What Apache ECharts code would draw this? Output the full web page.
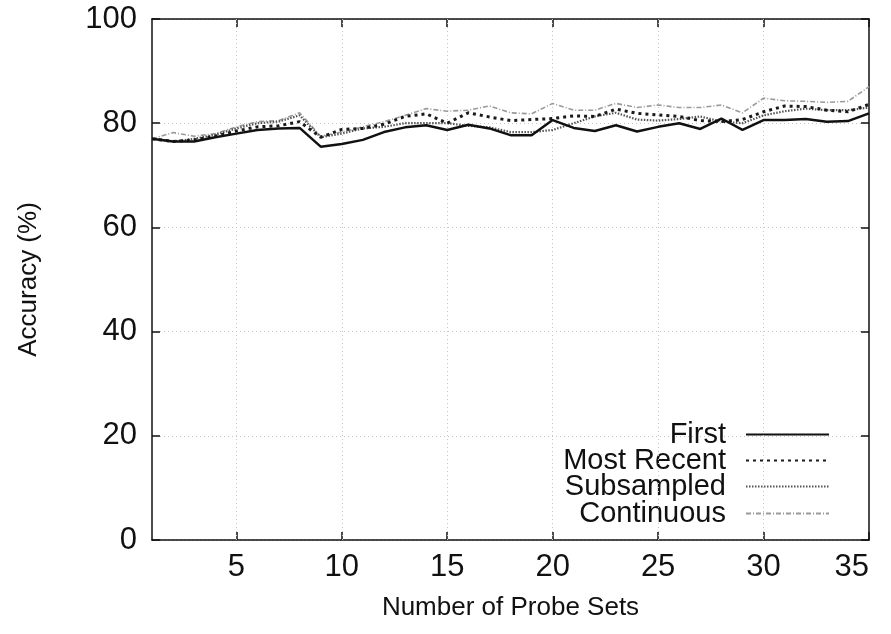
<!DOCTYPE html>
<html>
<head>
<meta charset="utf-8">
<script src="https://cdn.jsdelivr.net/npm/echarts@6/dist/echarts.min.js"></script>
<style>html,body{margin:0;padding:0;background:#fff}#c{width:891px;height:634px}</style>
</head>
<body>
<div id="c"></div>
<script>
const probeSets = [1,2,3,4,5,6,7,8,9,10,11,12,13,14,15,16,17,18,19,20,21,22,23,24,25,26,27,28,29,30,31,32,33,34,35];
const first = [77.0,76.5,76.5,77.3,78.0,78.7,79.0,79.1,75.5,76.0,76.8,78.3,79.2,79.6,78.7,79.7,79.0,77.7,77.7,80.6,79.1,78.5,79.6,78.4,79.3,80.0,78.9,80.9,78.7,80.6,80.6,80.8,80.3,80.4,81.9];
const mostRecent = [77.0,76.5,76.8,77.5,78.5,79.3,79.5,80.3,77.3,78.8,79.0,79.8,81.3,81.8,80.0,82.0,81.2,80.5,80.7,80.9,81.4,81.3,82.7,81.9,81.6,81.3,80.5,80.3,80.7,82.2,83.3,83.2,82.5,82.2,83.6];
const subsampled = [77.0,76.5,77.0,77.8,79.0,80.0,80.3,81.5,77.3,78.0,79.0,79.3,80.0,80.0,80.0,79.5,79.2,78.3,78.3,78.7,80.0,81.3,82.0,80.7,80.5,80.8,81.3,80.3,80.0,81.5,82.3,82.8,82.5,82.5,83.0];
const continuous = [77.0,78.2,77.5,78.0,79.3,80.3,80.5,82.0,77.5,78.3,79.3,80.3,81.5,82.8,82.3,82.5,83.3,82.0,81.8,83.8,82.5,82.5,83.8,83.0,83.5,83.0,83.0,83.5,82.0,84.8,84.3,84.2,84.0,84.2,87.0];
const xTicks = [5,10,15,20,25,30,35];
const seriesNames = ['First','Most Recent','Subsampled','Continuous'];

const FONT = '"Liberation Sans", Arial, Helvetica, sans-serif';
const chart = echarts.init(document.getElementById('c'));
const pairs = arr => arr.map((v,i)=>[probeSets[i], v]);
const styles = [
  {color:'#111', width:2.5, type:'solid'},
  {color:'#1a1a1a', width:3, type:[3,4]},
  {color:'#555', width:2.2, type:[1.5,1.5]},
  {color:'#9a9a9a', width:1.6, type:[5,2,1,2]}
];
const datas = [first, mostRecent, subsampled, continuous];
const gridLine = {show:true, lineStyle:{color:'#c4c4c4', type:[1,3], width:1}};
const series = seriesNames.map((n,i)=>({
  name:n, type:'line', data:pairs(datas[i]), symbol:'none', showSymbol:false,
  lineStyle:styles[i], itemStyle:{color:styles[i].color}, z:10-i, animation:false
}));
series.push({
  type:'line', data:[], silent:true, animation:false,
  markLine:{symbol:'none', silent:true, label:{show:false}, animation:false,
    lineStyle:{color:'#c4c4c4', type:[1,3], width:1},
    data: xTicks.slice(0,-1).map(v=>({xAxis:v}))}
});
const rowCenters = [435, 461, 487, 514];
const legends = seriesNames.map((n,i)=>({
  data:[n], right:61, top:rowCenters[i]-15, bottom:'auto', orient:'horizontal',
  align:'right', itemWidth:83, itemHeight:14, itemGap:0, padding:0,
  selectedMode:false,
  itemStyle:{opacity:0},
  textStyle:{fontFamily:FONT, fontSize:29, color:'#111', padding:[0,15,0,0]}
}));
chart.setOption({
  backgroundColor:'#fff',
  animation:false,
  grid:{left:152, right:22, top:19, bottom:94, show:false},
  legend: legends,
  xAxis:[{
    type:'value', min:1, max:35,
    name:'Number of Probe Sets', nameLocation:'middle', nameGap:55,
    nameTextStyle:{fontFamily:FONT, fontSize:26, color:'#111'},
    axisLine:{show:true, onZero:false, lineStyle:{color:'#111', width:1.5}},
    axisTick:{show:true, inside:true, length:8, customValues:xTicks, lineStyle:{color:'#111', width:1.5}},
    axisLabel:{customValues:xTicks, fontFamily:FONT, fontSize:31, color:'#111', margin:12, alignMaxLabel:'right'},
    splitLine:{show:false}
  },{
    type:'value', min:1, max:35, position:'top',
    axisLine:{show:true, onZero:false, lineStyle:{color:'#111', width:1.5}},
    axisTick:{show:true, inside:true, length:8, customValues:xTicks, lineStyle:{color:'#111', width:1.5}},
    axisLabel:{show:false}, splitLine:{show:false}
  }],
  yAxis:[{
    type:'value', min:0, max:100, interval:20,
    name:'Accuracy (%)', nameLocation:'middle', nameGap:110, nameRotate:90,
    nameTextStyle:{fontFamily:FONT, fontSize:26, color:'#111'},
    axisLine:{show:true, onZero:false, lineStyle:{color:'#111', width:1.5}},
    axisTick:{show:true, inside:true, length:8, lineStyle:{color:'#111', width:1.5}},
    axisLabel:{fontFamily:FONT, fontSize:31, color:'#111', margin:15},
    splitLine:gridLine
  },{
    type:'value', min:0, max:100, interval:20, position:'right',
    axisLine:{show:true, onZero:false, lineStyle:{color:'#111', width:1.5}},
    axisTick:{show:true, inside:true, length:8, lineStyle:{color:'#111', width:1.5}},
    axisLabel:{show:false}, splitLine:{show:false}
  }],
  series: series
});
</script>
</body>
</html>
